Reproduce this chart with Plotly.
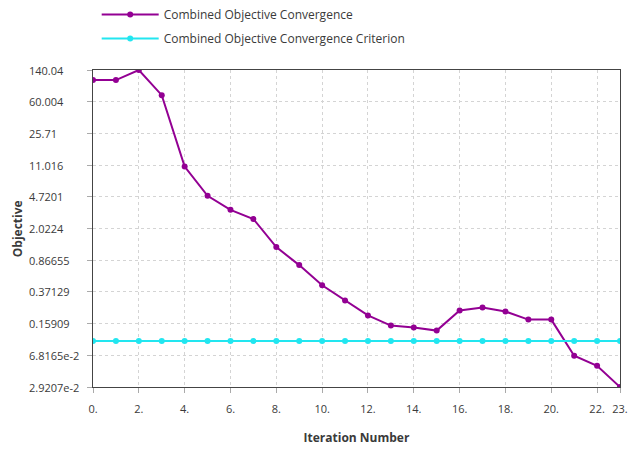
import math
import plotly.graph_objects as go

# Combined objective value at each design iteration
iterations = list(range(24))
objective = [107.0, 107.0, 140.04, 71.5, 10.6, 4.85, 3.33, 2.61, 1.23, 0.76,
             0.443, 0.296, 0.198, 0.151, 0.143, 0.132, 0.226, 0.245, 0.220,
             0.177, 0.177, 0.0673, 0.0514, 0.029207]
criterion = [0.1] * 24

y_tickvals = [140.04, 60.004, 25.71, 11.016, 4.7201, 2.0224, 0.86655, 0.37129,
              0.15909, 0.068165, 0.029207]
y_ticktext = ["140.04", "60.004", "25.71", "11.016", "4.7201", "2.0224",
              "0.86655", "0.37129", "0.15909", "6.8165e-2", "2.9207e-2"]
x_tickvals = [0, 2, 4, 6, 8, 10, 12, 14, 16, 18, 20, 22, 23]
x_ticktext = [f"{v}." for v in x_tickvals]

FONT = "Open Sans"
TEXT = "#3a3a3a"
W, H = 640, 456
ML, MR, MT, MB = 93, 15, 70, 69
PW = W - ML - MR

fig = go.Figure()
fig.add_trace(go.Scatter(
    x=iterations, y=objective, mode="lines+markers",
    name="Combined Objective Convergence", legendgroup="a",
    line=dict(color="#930093", width=2),
    marker=dict(color="#930093", size=6),
))
fig.add_trace(go.Scatter(
    x=iterations, y=criterion, mode="lines+markers",
    name="Combined Objective Convergence Criterion", legendgroup="b",
    line=dict(color="#22e6f0", width=2),
    marker=dict(color="#22e6f0", size=6),
))

grid = dict(showgrid=True, gridcolor="#d4d4d4", gridwidth=1, griddash="3px,3px")

# y tick labels are left-aligned in a column at the left edge
annotations = [
    dict(text=t, x=(26 - ML) / PW, xref="paper", xanchor="left",
         y=math.log10(v), yref="y", yanchor="middle", showarrow=False,
         font=dict(family=FONT, size=11, color=TEXT))
    for v, t in zip(y_tickvals, y_ticktext)
]
annotations.append(dict(
    text="<b>Objective</b>", x=(17 - ML) / PW, xref="paper", xanchor="center",
    y=0.5, yref="paper", yanchor="middle", textangle=-90, showarrow=False,
    font=dict(family=FONT, size=12, color=TEXT)))

fig.update_layout(
    width=W, height=H,
    margin=dict(l=ML, r=MR, t=MT, b=MB),
    paper_bgcolor="white", plot_bgcolor="white",
    font=dict(family=FONT, size=11, color=TEXT),
    showlegend=True,
    legend=dict(
        x=0.007, xanchor="left", y=1.0, yanchor="top",
        yref="container", bgcolor="rgba(0,0,0,0)",
        font=dict(family=FONT, size=12, color=TEXT),
        itemwidth=57, tracegroupgap=5,
    ),
    annotations=annotations,
    xaxis=dict(
        range=[0, 23], tickmode="array", tickvals=x_tickvals, ticktext=x_ticktext,
        showline=True, linecolor="#444444", linewidth=1, mirror=True,
        ticks="outside", ticklen=5, tickcolor="#aaaaaa", ticklabelstandoff=7,
        zeroline=False,
        title=dict(text="<b>Iteration Number</b>", font=dict(size=12, color=TEXT), standoff=18),
        **grid,
    ),
    yaxis=dict(
        type="log",
        range=[math.log10(0.029207), math.log10(140.04)],
        tickmode="array", tickvals=y_tickvals, showticklabels=False,
        showline=True, linecolor="#444444", linewidth=1, mirror=True,
        ticks="outside", ticklen=5, tickcolor="#aaaaaa",
        zeroline=False,
        **grid,
    ),
)

fig.write_html("out.html")
